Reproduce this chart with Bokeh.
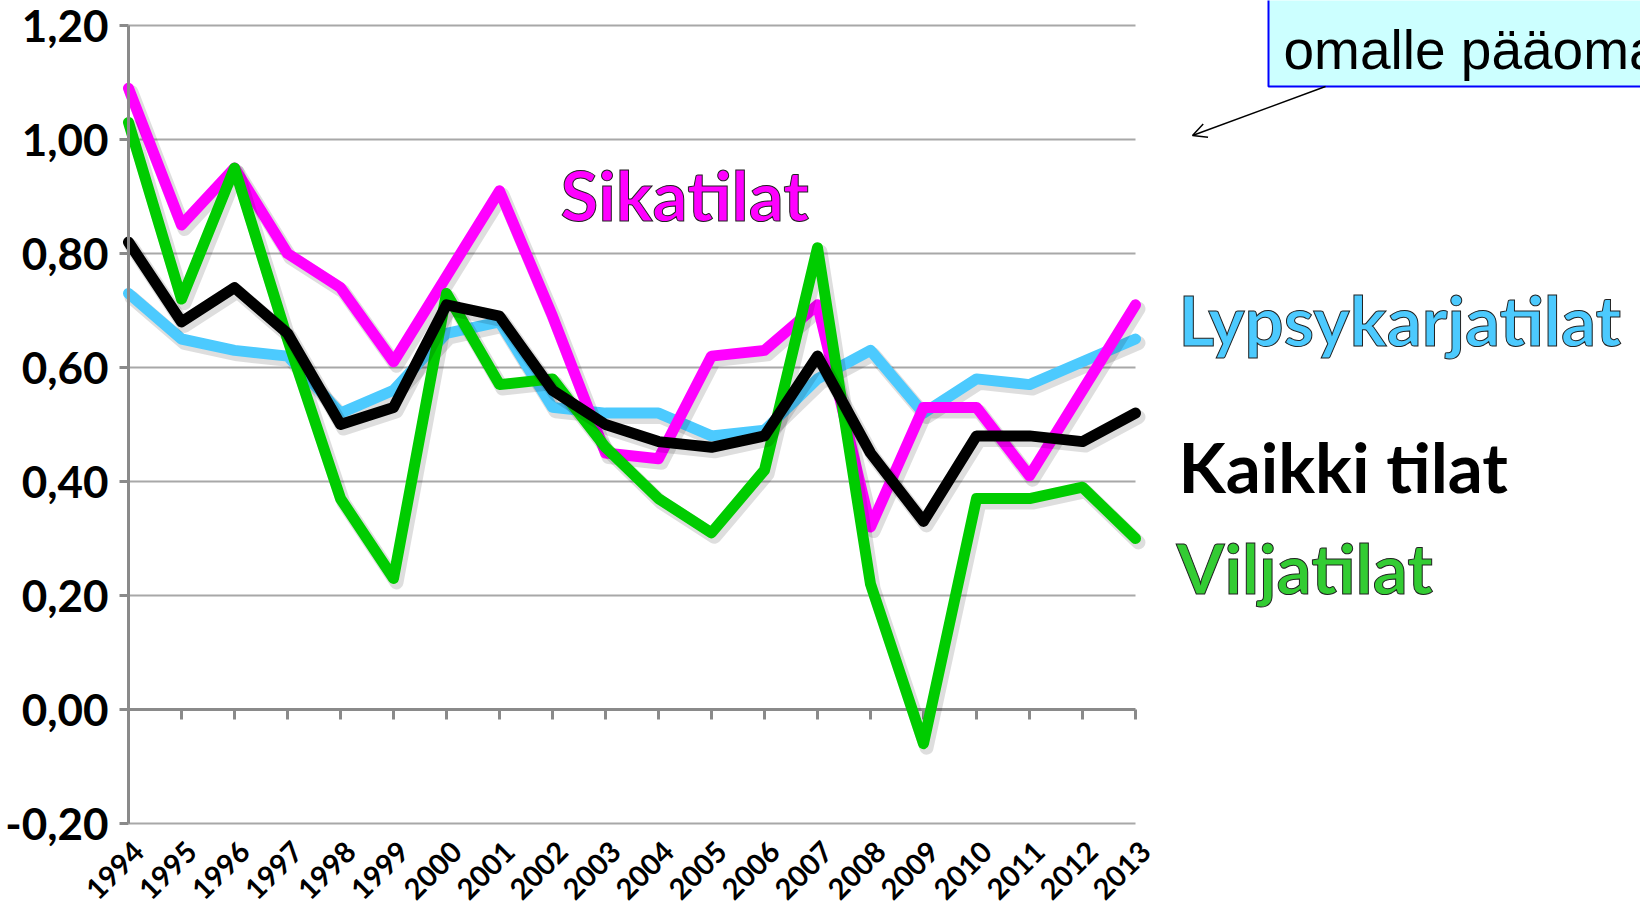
import numpy as np
from bokeh.plotting import figure
from bokeh.models import (Range1d, FixedTicker, Label, LabelSet, BoxAnnotation,
                          Arrow, OpenHead, ColumnDataSource)
from bokeh.core.properties import value
from bokeh.embed import file_html
from bokeh.resources import INLINE

# ---- data -------------------------------------------------------------
years = list(range(1994, 2014))
year_labels = [str(y) for y in years]
lypsykarjatilat = [0.73, 0.65, 0.63, 0.62, 0.52, 0.56, 0.66, 0.68, 0.53, 0.52,
                   0.52, 0.48, 0.49, 0.58, 0.63, 0.52, 0.58, 0.57, 0.61, 0.65]
sikatilat = [1.09, 0.85, 0.95, 0.80, 0.74, 0.61, 0.76, 0.91, 0.69, 0.45,
             0.44, 0.62, 0.63, 0.71, 0.32, 0.53, 0.53, 0.41, 0.56, 0.71]
viljatilat = [1.03, 0.72, 0.95, 0.65, 0.37, 0.23, 0.73, 0.57, 0.58, 0.46,
              0.37, 0.31, 0.42, 0.81, 0.22, -0.06, 0.37, 0.37, 0.39, 0.30]
kaikki_tilat = [0.82, 0.68, 0.74, 0.66, 0.50, 0.53, 0.71, 0.69, 0.56, 0.50,
                0.47, 0.46, 0.48, 0.62, 0.45, 0.33, 0.48, 0.48, 0.47, 0.52]
y_ticks = [-0.2, 0.0, 0.2, 0.4, 0.6, 0.8, 1.0, 1.2]
y_tick_labels = ["-0,20", "0,00", "0,20", "0,40", "0,60", "0,80", "1,00", "1,20"]

# ---- layout helpers (canvas pixels -> data) ----------------------------
W, H = 1640, 908
PX_X = 53.0     # pixels per year
PX_Y = 570.0    # pixels per unit
X0_PX = 128     # canvas x of first year
Y0_PX = 709     # canvas y of value 0


def X(px):
    return years[0] + (px - X0_PX) / PX_X


def Y(py):
    return (Y0_PX - py) / PX_Y


p = figure(width=W, height=H, output_backend="svg", toolbar_location=None,
           x_range=Range1d(X(0), X(W)), y_range=Range1d(Y(H), Y(0)),
           min_border_left=0, min_border_right=0,
           min_border_top=0, min_border_bottom=0, x_axis_type=None)
p.outline_line_color = None
p.background_fill_color = "white"
p.border_fill_color = "white"
p.ygrid.grid_line_color = None

# value axis, placed at the first category (takes no layout space)
ax = p.yaxis[0]
ax.fixed_location = years[0]
ax.bounds = (y_ticks[0], y_ticks[-1])
ax.ticker = FixedTicker(ticks=y_ticks, minor_ticks=[])
ax.major_label_overrides = dict(zip(y_ticks, y_tick_labels))
ax.axis_line_color = "#8a8a8a"
ax.axis_line_width = 3
ax.major_tick_in = 0
ax.major_tick_out = 9
ax.major_tick_line_color = "#8a8a8a"
ax.major_tick_line_width = 3
ax.minor_tick_line_color = None
ax.major_label_standoff = 11
ax.major_label_text_font = "Lato"
ax.major_label_text_font_style = "bold"
ax.major_label_text_font_size = "44px"
ax.major_label_text_color = "black"

# gridlines
grid_y = [t for t in y_ticks if t != 0]
p.segment(x0=years[0], x1=years[-1], y0=grid_y, y1=grid_y,
          line_color="#a8a8a8", line_width=2)
# category axis line at zero with ticks
p.segment(x0=[years[0]], y0=[0], x1=[years[-1]], y1=[0],
          line_color="#8a8a8a", line_width=3)
p.segment(x0=years, x1=years, y0=0, y1=-10 / PX_Y,
          line_color="#8a8a8a", line_width=3)

series = [(lypsykarjatilat, "#4ccafe"), (sikatilat, "#ff00ff"),
          (viljatilat, "#00cc00"), (kaikki_tilat, "#000000")]
for data, color in series:
    p.line([yr + 3 / PX_X for yr in years], [v - 4 / PX_Y for v in data],
           line_color="black", line_alpha=0.13, line_width=14,
           line_join="round", line_cap="round")
    p.line(years, data, line_color=color, line_width=11,
           line_join="round", line_cap="round")

# year labels (rotated), placed below the bottom gridline
year_src = ColumnDataSource(dict(
    x=[yr + 10 / PX_X for yr in years],
    y=[y_ticks[0] - 23 / PX_Y] * len(years),
    text=year_labels))
p.add_layout(LabelSet(x="x", y="y", text="text", source=year_src,
                      angle=np.pi / 4, text_align="right", text_baseline="middle",
                      text_font=value("Lato"), text_font_style="bold",
                      text_font_size="29px", text_color="black"))


# series names (Label y offset found empirically: ~0.37 * font size)
def name(txt, px, py, color, outline, size=69):
    kw = dict(x=X(px), y=Y(py - 0.37 * size), text=txt, text_font="Lato",
              text_font_style="bold", text_font_size=f"{size}px",
              text_color=color, text_align="left", text_baseline="alphabetic")
    if outline:
        kw["text_outline_color"] = "#222222"
    p.add_layout(Label(**kw))


name("Sikatilat", 560, 220, "#ff00ff", True)
name("Lypsykarjatilat", 1178, 345, "#4ccafe", True)
name("Kaikki tilat", 1178, 492, "#000000", False)
name("Viljatilat", 1176, 593, "#33cc33", True)

# annotation box
p.add_layout(BoxAnnotation(left=X(1268), right=X(1800), bottom=Y(86), top=Y(-40),
                           fill_color="#ccffff", fill_alpha=1.0,
                           line_color="#0000ff", line_width=2, line_alpha=1.0))
p.add_layout(Label(x=X(1283), y=Y(70 - 0.37 * 55), text="omalle pääomalle",
                   text_font="Liberation Sans",
                   text_font_size="55px", text_color="black",
                   text_baseline="alphabetic"))
p.add_layout(Arrow(x_start=X(1325), y_start=Y(86), x_end=X(1192), y_end=Y(135),
                   line_color="black", line_width=1.5,
                   end=OpenHead(size=14, line_width=1.5, line_color="black")))

open("out.html", "w").write(file_html(p, INLINE))
